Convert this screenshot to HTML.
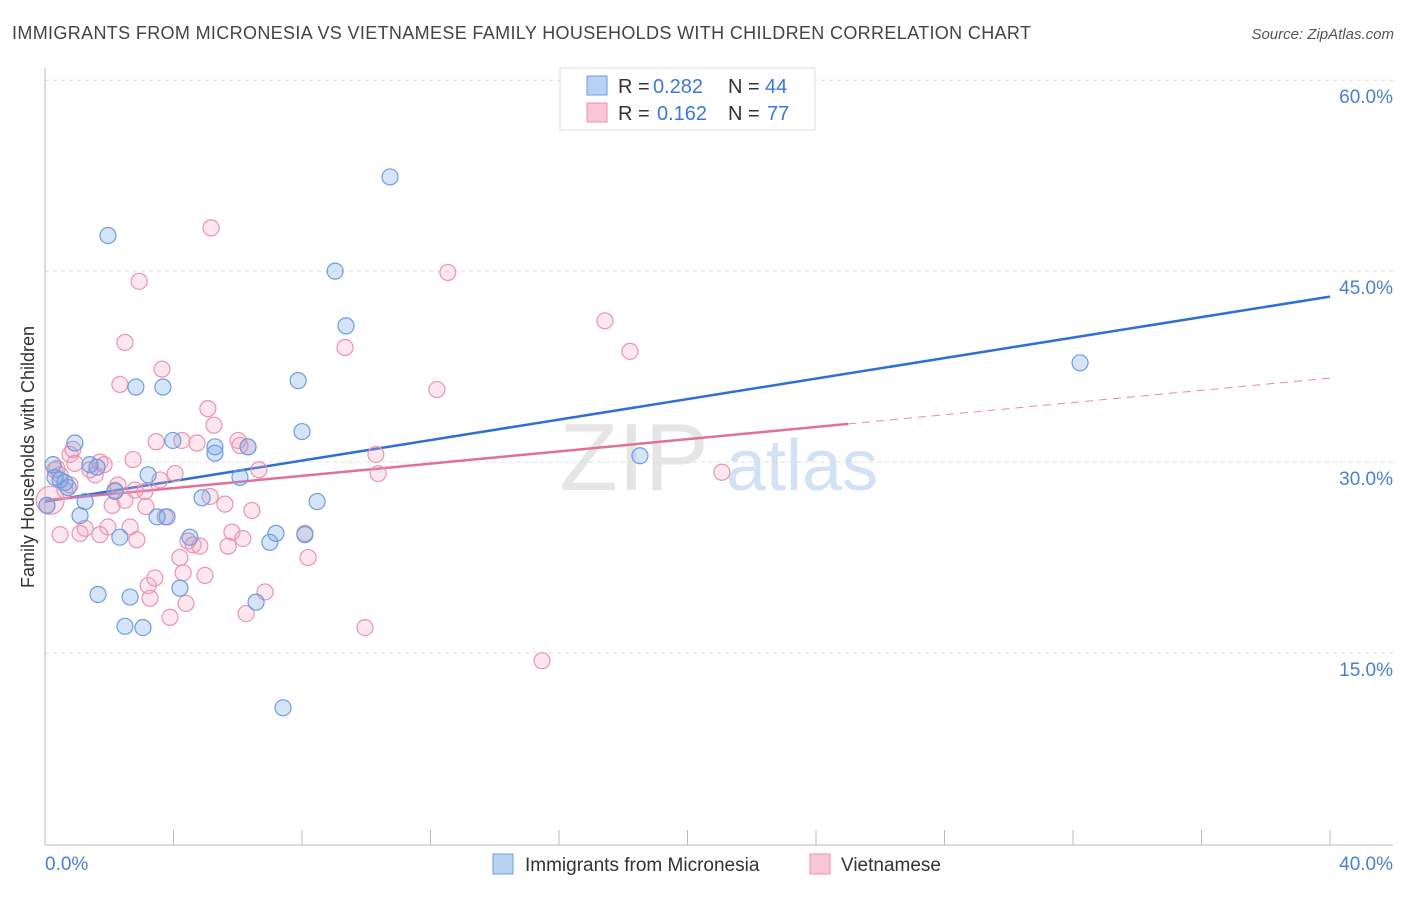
<!DOCTYPE html>
<html><head><meta charset="utf-8"><style>
body{margin:0;background:#fff;font-family:"Liberation Sans",sans-serif;}
svg text{font-family:"Liberation Sans",sans-serif;}
</style></head><body>
<svg id="chart" width="1406" height="892" xmlns="http://www.w3.org/2000/svg">
<text x="12" y="39" font-size="18" letter-spacing="0.35" fill="#444">IMMIGRANTS FROM MICRONESIA VS VIETNAMESE FAMILY HOUSEHOLDS WITH CHILDREN CORRELATION CHART</text>
<text x="1394" y="39" font-size="15" fill="#555" text-anchor="end" font-style="italic">Source: ZipAtlas.com</text>
<text transform="translate(34,457) rotate(-90)" font-size="18" fill="#333" text-anchor="middle">Family Households with Children</text>
<g opacity="0.5">
<text x="634" y="490" font-size="96" fill="#ccc" font-family="Liberation Serif" text-anchor="middle">ZIP</text>
<text x="802" y="490" font-size="72" fill="#a9c4ea" text-anchor="middle">atlas</text>
</g>
<g id="grid"></g><g id="axes"></g><g id="lines"></g><g id="pts"></g>
<g>
<rect x="560" y="68" width="255" height="62" fill="#fff" stroke="#ddd"/>
<rect x="587" y="76" width="20" height="19" fill="#b9d2f3" stroke="#6a9ee0"/>
<rect x="587" y="103" width="20" height="19" fill="#f8c6d6" stroke="#e990ae"/>
<text x="618" y="93" font-size="20" fill="#333">R =</text><text x="653" y="93" font-size="20" fill="#3b78d8">0.282</text>
<text x="728" y="93" font-size="20" fill="#333">N =</text><text x="765" y="93" font-size="20" fill="#3b78d8">44</text>
<text x="618" y="120" font-size="20" fill="#333">R =</text><text x="657" y="120" font-size="20" fill="#3b78d8">0.162</text>
<text x="728" y="120" font-size="20" fill="#333">N =</text><text x="767" y="120" font-size="20" fill="#3b78d8">77</text>
</g>
<g>
<rect x="493" y="854" width="20" height="20" fill="#b9d2f3" stroke="#6a9ee0"/>
<text x="525" y="871" font-size="19" fill="#333">Immigrants from Micronesia</text>
<rect x="810" y="854" width="20" height="20" fill="#f8c6d6" stroke="#e990ae"/>
<text x="841" y="871" font-size="19" fill="#333">Vietnamese</text>
</g>
</svg>
<script>
const blueX=[0.06,0.25,0.93,1.40,1.62,0.72,1.25,1.09,1.96,2.18,2.33,1.65,2.49,2.65,3.05,2.83,3.67,3.21,3.49,3.80,3.98,4.20,4.51,4.89,5.29,5.29,6.07,6.32,6.57,7.00,7.19,7.41,7.88,8.00,8.09,8.47,9.03,9.37,10.74,18.52,32.22,0.47,0.62,0.31];
const blueY=[26.6,29.8,31.5,29.8,29.6,28.0,26.9,25.8,47.8,27.7,24.1,19.6,17.1,19.4,17.0,35.9,35.9,29.0,25.7,25.7,31.7,20.1,24.1,27.2,31.2,30.7,28.8,31.2,19.0,23.7,24.4,10.7,36.4,32.4,24.3,26.9,45.0,40.7,52.4,30.5,37.8,28.6,28.4,28.8];
const pinkX=[0.06,0.16,0.31,0.47,0.62,0.78,0.93,1.09,1.25,1.40,1.56,1.71,1.84,1.96,2.09,2.27,2.49,2.33,2.65,2.74,2.86,2.93,3.11,3.14,3.21,3.27,3.42,3.46,3.64,3.74,3.89,4.05,4.20,4.26,4.39,4.45,4.61,4.73,4.82,4.98,5.07,5.14,5.17,5.26,5.60,5.70,5.82,6.01,6.16,6.26,6.32,6.44,6.66,6.85,8.09,8.19,9.34,9.96,10.30,10.37,12.20,12.54,15.47,17.43,18.21,21.07,0.47,0.78,1.71,2.18,2.80,3.58,4.30,0.37,6.07,2.49,0.87];
const pinkY=[26.6,27.0,29.4,29.0,27.8,30.6,29.9,24.4,24.8,29.4,29.0,30.0,29.8,24.9,26.6,28.2,39.4,36.1,24.9,30.2,23.9,44.2,27.7,26.5,20.3,19.3,20.9,31.6,37.3,25.7,17.8,29.1,22.5,31.7,18.9,23.8,23.5,31.5,23.4,21.1,34.2,27.3,48.4,32.9,26.7,23.4,24.5,31.7,24.0,18.1,31.2,26.2,29.4,19.8,24.4,22.5,39.0,17.0,30.6,29.1,35.7,44.9,14.4,41.1,38.7,29.2,24.3,28.2,24.3,27.8,27.8,28.6,21.3,29.5,31.3,27.0,31.0];
const yTicks=[15,30,45,60];
const yTickLabels=["15.0%","30.0%","45.0%","60.0%"];
const blueTrend=[26.9,43.0];
const pinkTrend=[27.0,36.6];
const pinkSolidEnd=25.0;
const X=v=>45+v/40*1285, Y=v=>844-v*12.73;
const NS="http://www.w3.org/2000/svg";
function mk(p,t,a){const e=document.createElementNS(NS,t);for(const k in a)e.setAttribute(k,a[k]);p.appendChild(e);return e;}
const grid=document.getElementById('grid'),axes=document.getElementById('axes'),lines=document.getElementById('lines'),pts=document.getElementById('pts');
yTicks.forEach((t,i)=>{
 const l=mk(grid,'line',{x1:45,x2:1393,y1:Y(t),y2:Y(t),stroke:'#ddd','stroke-dasharray':'4,4'});
 
 
 const tx=mk(grid,'text',{x:1393,y:Y(t)+23,'font-size':19,fill:'#4a7fd4','text-anchor':'end'});tx.textContent=yTickLabels[i];
 
 
});
mk(axes,'line',{x1:45,x2:45,y1:68,y2:845,stroke:'#bbb'});
mk(axes,'line',{x1:45,x2:1393,y1:845,y2:845,stroke:'#bbb'});
for(let v=4;v<=40;v+=4){const t=mk(axes,'line',{x1:X(v),x2:X(v),y1:830,y2:845,stroke:'#bbb'});
 
 }
[[0,'0.0%','start',45],[40,'40.0%','end',1393]].forEach(a=>{const t=mk(axes,'text',{x:a[3],y:870,'font-size':19,fill:'#4a7fd4','text-anchor':a[2]});t.textContent=a[1];
 
 });
const bl=mk(lines,'line',{x1:X(0),y1:Y(blueTrend[0]),x2:X(40),y2:Y(blueTrend[1]),stroke:'#2f6fd4','stroke-width':2.5});


const pm=pinkTrend[0]+(pinkTrend[1]-pinkTrend[0])*pinkSolidEnd/40;
const pl=mk(lines,'line',{x1:X(0),y1:Y(pinkTrend[0]),x2:X(pinkSolidEnd),y2:Y(pm),stroke:'#e0709a','stroke-width':2.5});


const pd=mk(lines,'line',{x1:X(pinkSolidEnd),y1:Y(pm),x2:X(40),y2:Y(pinkTrend[1]),stroke:'#e58aa8','stroke-width':1,'stroke-dasharray':'8,6'});


pinkX.forEach((x,i)=>{const c=mk(pts,'circle',{cx:X(x),cy:Y(pinkY[i]),r:i==1?14:8,fill:'rgba(244,160,190,0.25)',stroke:'#ea93b1','stroke-width':1.2});
 
 });
blueX.forEach((x,i)=>{const c=mk(pts,'circle',{cx:X(x),cy:Y(blueY[i]),r:8,fill:'rgba(120,165,230,0.3)',stroke:'#6a9ee0','stroke-width':1.2});
 
 });
</script>
</body></html>
